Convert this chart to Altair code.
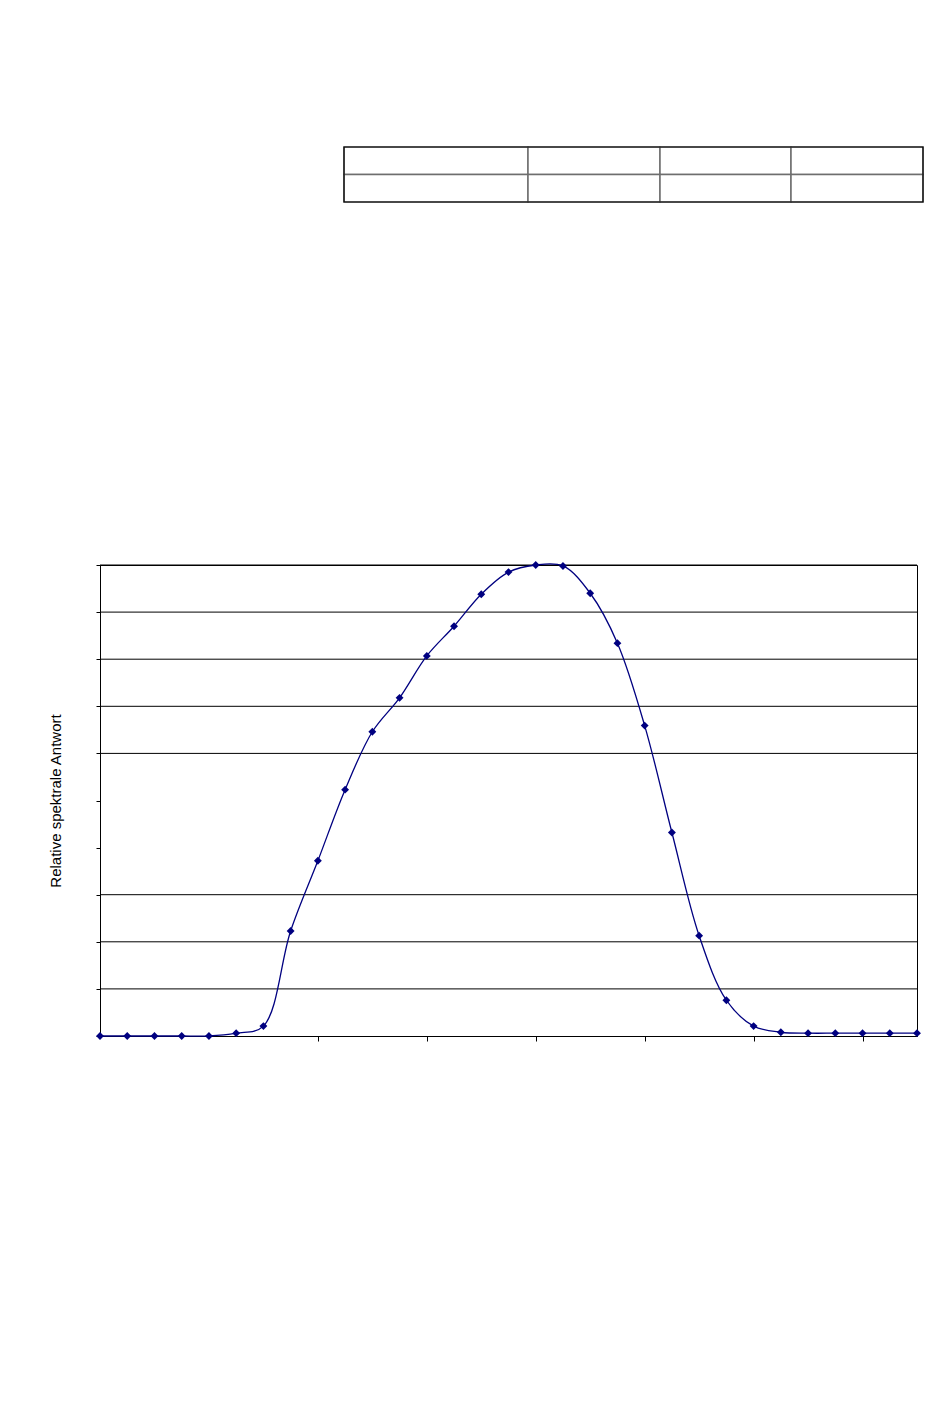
import altair as alt
import pandas as pd

# Wavelength positions of the measured points (nm) and relative response
wavelength = [350, 375, 400, 425, 450, 475, 500, 525, 550, 575, 600, 625, 650, 675, 700,
              725, 750, 775, 800, 825, 850, 875, 900, 925, 950, 975, 1000, 1025, 1050, 1075, 1100]
response = [0.0, 0.0, 0.0, 0.0, 0.0, 0.006, 0.021, 0.223, 0.372, 0.523, 0.646, 0.718, 0.807,
            0.870, 0.938, 0.985, 1.0, 0.998, 0.940, 0.834, 0.659, 0.432, 0.213, 0.076, 0.021,
            0.008, 0.006, 0.006, 0.006, 0.006, 0.006]

x_ticks = [550, 650, 750, 850, 950, 1050]
y_ticks = [0.0, 0.1, 0.2, 0.3, 0.4, 0.5, 0.6, 0.7, 0.8, 0.9, 1.0]
grid_lines = [0.1, 0.2, 0.3, 0.6, 0.7, 0.8, 0.9, 1.0]

# Empty 2 x 4 table above the chart (column edges in layout units of the panel width)
table_col_edges = [244, 428, 560, 691, 823]
table_rows = 2

PLOT_W = 817
PLOT_H = 471
NAVY = "#000080"

df = pd.DataFrame({"wavelength": wavelength, "response": response})
grid_df = pd.DataFrame({"g": grid_lines})

cells = []
for r in range(table_rows):
    for c in range(len(table_col_edges) - 1):
        cells.append({"x0": table_col_edges[c], "x1": table_col_edges[c + 1], "y0": r, "y1": r + 1})
cells_df = pd.DataFrame(cells)
outer_df = pd.DataFrame([{"x0": table_col_edges[0], "x1": table_col_edges[-1], "y0": 0, "y1": table_rows}])

tx = alt.X("x0:Q", scale=alt.Scale(domain=[0, PLOT_W], nice=False, zero=False), axis=None)
ty = alt.Y("y0:Q", scale=alt.Scale(domain=[0, table_rows], reverse=True, nice=False), axis=None)

table_cells = alt.Chart(cells_df).mark_rect(fill="white", stroke="#6e6e6e", strokeWidth=1.5).encode(
    x=tx, x2="x1:Q", y=ty, y2="y1:Q"
)
table_outer = alt.Chart(outer_df).mark_rect(fill=None, stroke="black", strokeWidth=1.2).encode(
    x=tx, x2="x1:Q", y=ty, y2="y1:Q"
)
table = alt.layer(table_cells, table_outer).properties(
    width=PLOT_W, height=55, view=alt.ViewBackground(stroke=None)
)

xs = alt.X(
    "wavelength:Q",
    scale=alt.Scale(domain=[350, 1100], nice=False, zero=False),
    axis=alt.Axis(values=x_ticks, labels=False, title=None, grid=False,
                  domainColor="black", tickColor="black", tickSize=5, domainWidth=1, tickWidth=1),
)
ys = alt.Y(
    "response:Q",
    scale=alt.Scale(domain=[0, 1], nice=False),
    axis=alt.Axis(values=y_ticks, labels=False, grid=False, title="Relative spektrale Antwort",
                  titleFont="Liberation Sans", titleFontSize=15, titleFontWeight="normal",
                  titleColor="black", titlePadding=32,
                  domainColor="black", tickColor="black", tickSize=4, domainWidth=1, tickWidth=1),
)

grid = alt.Chart(grid_df).mark_rule(color="black", strokeWidth=1).encode(
    y=alt.Y("g:Q", scale=alt.Scale(domain=[0, 1], nice=False))
)
line = alt.Chart(df).mark_line(color=NAVY, strokeWidth=1.3, interpolate="catmull-rom").encode(x=xs, y=ys)
points = alt.Chart(df).mark_point(shape="diamond", filled=True, size=62, color=NAVY, opacity=1).encode(
    x=xs, y=ys
)

plot = alt.layer(grid, line, points).properties(
    width=PLOT_W, height=PLOT_H, view=alt.ViewBackground(stroke="black", strokeWidth=1)
)

chart = alt.vconcat(table, plot, spacing=363, bounds="flush").properties(
    padding={"left": 40, "top": 138, "right": 5, "bottom": 5}
).configure(font="Liberation Sans").configure_view(stroke="black")

chart.save("out.html", embed_options={"renderer": "svg", "actions": False})
